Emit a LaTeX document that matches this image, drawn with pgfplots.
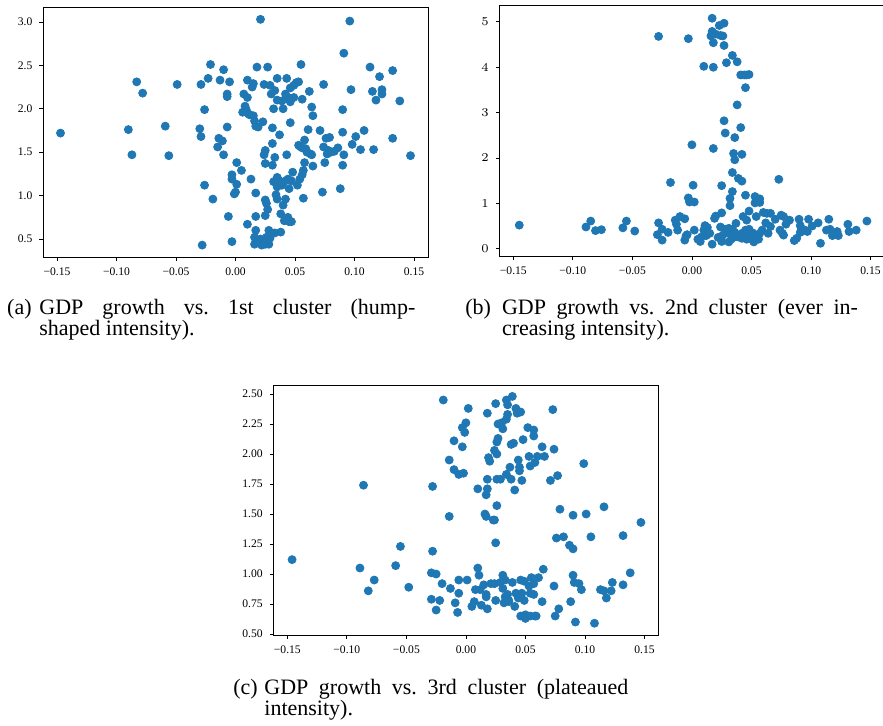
\documentclass[border=0pt]{standalone}
\usepackage{fontspec}
\setmainfont{Liberation Serif}
\usepackage{pgfplots}
\pgfplotsset{compat=1.18}
\definecolor{mplblue}{HTML}{1F77B4}
\frenchspacing

\pgfplotsset{
  panel/.style={
    scale only axis, width=192.5pt, height=125pt, anchor=south west,
    axis line style={line width=0.5pt, black},
    tick align=outside, xtick pos=bottom, ytick pos=left,
    major tick length=1.8pt, tick style={line width=0.4pt, black},
    ticklabel style={font=\fontsize{5.8}{6.5}\selectfont},
    xmin=-0.1617, xmax=0.1617,
    xtick={-0.15,-0.1,-0.05,0,0.05,0.1,0.15},
    xticklabels={−0.15,−0.10,−0.05,0.00,0.05,0.10,0.15},
    scaled ticks=false,
  },
  dots/.style={only marks, mark=*, mark size=2pt, color=mplblue,
    mark options={draw=mplblue, fill=mplblue}},
}

\begin{document}
\begin{tikzpicture}
\useasboundingbox (0,0) rectangle (441.5pt,362.5pt);

% (a) first cluster
\begin{axis}[panel, at={(21.5pt,234pt)},
  ymin=0.293, ymax=3.172,
  ytick={0.5,1,1.5,2,2.5,3}, yticklabels={0.5,1.0,1.5,2.0,2.5,3.0}]
\addplot[dots] table {
x y
-0.147 1.72
-0.090 1.76
-0.087 1.47
-0.083 2.31
-0.078 2.18
-0.059 1.80
-0.056 1.46
-0.049 2.28
-0.029 2.28
-0.030 1.77
-0.029 1.68
-0.028 0.43
-0.026 1.12
-0.026 1.99
-0.023 2.35
-0.021 2.51
-0.019 0.96
-0.015 1.56
-0.014 1.66
-0.013 2.33
-0.011 1.63
-0.010 1.47
-0.010 2.45
-0.007 2.14
-0.007 2.17
-0.007 1.79
-0.006 0.76
-0.005 2.31
-0.003 0.47
-0.003 1.24
-0.003 1.19
-0.001 1.02
0.000 1.04
0.001 1.38
0.001 1.13
0.005 1.29
0.006 1.96
0.008 2.03
0.009 1.99
0.007 2.17
0.010 2.13
0.010 2.33
0.011 1.94
0.012 1.93
0.010 0.67
0.013 1.19
0.014 2.25
0.015 2.29
0.015 1.92
0.016 1.86
0.017 0.76
0.017 1.03
0.016 0.52
0.016 0.44
0.017 0.60
0.018 2.48
0.019 1.79
0.017 1.80
0.021 3.03
0.021 0.50
0.022 0.43
0.023 1.85
0.024 1.47
0.024 2.28
0.025 1.52
0.025 0.95
0.025 0.77
0.025 1.37
0.025 0.44
0.026 0.52
0.026 0.91
0.027 2.48
0.027 0.84
0.028 0.60
0.028 0.44
0.029 0.51
0.029 2.27
0.030 2.17
0.031 1.78
0.031 1.60
0.031 1.35
0.032 1.16
0.032 2.00
0.033 2.21
0.033 1.44
0.033 0.57
0.034 1.01
0.035 1.21
0.036 1.18
0.035 2.35
0.035 2.10
0.035 1.10
0.035 0.96
0.037 1.70
0.038 0.79
0.038 0.58
0.039 2.09
0.039 1.12
0.040 0.89
0.040 2.00
0.041 0.71
0.042 2.17
0.042 0.96
0.042 1.17
0.043 1.47
0.043 2.35
0.044 2.13
0.044 0.75
0.044 1.19
0.045 0.70
0.045 1.08
0.046 2.08
0.046 1.84
0.046 2.24
0.047 0.70
0.047 1.17
0.048 1.27
0.049 2.13
0.049 2.27
0.051 2.30
0.052 1.12
0.053 2.31
0.053 1.58
0.054 1.19
0.054 1.57
0.055 2.51
0.055 1.56
0.056 1.55
0.056 1.24
0.056 2.11
0.057 1.29
0.057 0.97
0.058 1.38
0.058 1.64
0.059 1.54
0.060 1.50
0.061 1.76
0.062 2.20
0.063 1.48
0.064 2.02
0.064 1.47
0.065 1.92
0.065 1.34
0.071 1.75
0.073 1.04
0.074 2.28
0.074 1.56
0.075 1.38
0.076 1.66
0.077 1.48
0.078 1.52
0.079 1.67
0.080 1.50
0.083 1.51
0.086 1.55
0.088 1.08
0.090 1.35
0.090 1.99
0.090 1.73
0.091 2.64
0.091 1.47
0.096 3.01
0.097 2.22
0.098 1.59
0.101 1.68
0.105 1.53
0.108 1.75
0.113 2.48
0.115 2.20
0.116 1.53
0.118 2.10
0.121 2.37
0.123 2.17
0.123 2.22
0.132 1.66
0.132 2.44
0.138 2.09
0.147 1.46
};
\end{axis}

% (b) second cluster
\begin{axis}[panel, at={(249.7pt,234.5pt)},
  ymin=-0.16, ymax=5.35, ytick={0,1,2,3,4,5}]
\addplot[dots] table {
x y
-0.145 0.52
-0.089 0.48
-0.085 0.61
-0.081 0.40
-0.076 0.42
-0.058 0.46
-0.055 0.61
-0.048 0.39
-0.028 4.68
-0.028 0.57
-0.029 0.31
-0.025 0.43
-0.025 0.19
-0.020 0.36
-0.018 1.46
-0.014 0.63
-0.013 0.54
-0.012 0.41
-0.010 0.71
-0.006 0.66
-0.005 0.28
-0.006 0.19
-0.004 0.31
-0.003 4.63
-0.003 1.12
-0.002 1.03
0.002 1.03
0.000 2.29
0.001 1.40
0.002 0.41
0.005 0.21
0.007 0.16
0.008 0.26
0.010 0.41
0.010 4.02
0.011 0.51
0.012 0.29
0.013 0.47
0.015 0.34
0.017 5.08
0.017 4.79
0.016 4.69
0.018 4.54
0.018 4.00
0.018 2.21
0.017 0.10
0.019 0.67
0.020 4.73
0.020 0.72
0.023 4.92
0.024 4.70
0.027 4.97
0.026 4.69
0.027 4.48
0.029 4.10
0.027 2.82
0.028 2.55
0.025 1.39
0.025 0.79
0.024 0.48
0.022 0.25
0.026 0.30
0.025 0.16
0.028 0.43
0.030 0.36
0.032 1.11
0.032 0.95
0.031 0.45
0.032 0.34
0.031 0.15
0.033 0.21
0.034 0.43
0.034 4.26
0.034 1.26
0.034 1.68
0.035 2.10
0.036 1.96
0.036 2.45
0.036 0.26
0.036 0.36
0.037 0.56
0.038 4.12
0.038 3.17
0.038 0.28
0.039 1.55
0.041 2.67
0.041 3.83
0.042 1.49
0.042 2.08
0.043 0.71
0.044 3.83
0.044 0.30
0.045 3.55
0.045 1.18
0.046 3.83
0.048 3.84
0.048 0.83
0.046 0.63
0.048 0.43
0.045 0.41
0.042 0.34
0.042 0.23
0.039 0.26
0.046 0.21
0.049 0.28
0.050 0.21
0.051 0.35
0.053 1.15
0.053 1.01
0.057 1.10
0.057 1.02
0.054 0.71
0.052 0.15
0.053 0.23
0.055 0.28
0.056 0.21
0.057 0.34
0.059 0.41
0.060 0.80
0.062 0.57
0.063 0.78
0.064 0.34
0.066 0.78
0.066 0.49
0.070 0.65
0.073 1.53
0.074 0.41
0.075 0.74
0.076 0.34
0.077 0.30
0.077 0.71
0.079 0.54
0.082 0.63
0.086 0.18
0.088 0.23
0.090 0.65
0.091 0.51
0.091 0.36
0.095 0.41
0.097 0.38
0.098 0.65
0.101 0.50
0.106 0.57
0.108 0.12
0.113 0.41
0.115 0.65
0.116 0.43
0.118 0.29
0.122 0.38
0.123 0.29
0.131 0.54
0.132 0.38
0.138 0.41
0.147 0.61
};
\end{axis}

% (c) third cluster
\begin{axis}[panel, at={(136.7pt,45pt)},
  ymin=0.492, ymax=2.575,
  ytick={0.5,0.75,1,1.25,1.5,1.75,2,2.25,2.5},
  yticklabels={0.50,0.75,1.00,1.25,1.50,1.75,2.00,2.25,2.50}]
\addplot[dots] table {
x y
-0.146 1.12
-0.089 1.05
-0.086 1.74
-0.082 0.86
-0.077 0.95
-0.059 1.07
-0.055 1.23
-0.048 0.89
-0.029 1.01
-0.029 0.79
-0.028 1.73
-0.028 1.19
-0.025 1.00
-0.025 0.70
-0.022 0.78
-0.020 0.92
-0.019 2.45
-0.014 1.95
-0.014 1.48
-0.013 0.88
-0.010 2.11
-0.010 1.87
-0.009 0.76
-0.007 0.68
-0.006 1.83
-0.006 0.84
-0.006 0.95
-0.003 2.22
-0.003 2.06
-0.002 1.84
-0.001 2.18
0.000 2.26
0.001 0.95
0.002 2.38
0.005 0.73
0.007 0.77
0.008 0.87
0.010 1.71
0.010 1.05
0.011 0.99
0.012 0.87
0.013 0.74
0.015 0.91
0.016 1.50
0.017 1.66
0.017 1.48
0.017 0.83
0.017 0.81
0.018 1.71
0.018 1.79
0.018 0.71
0.018 2.34
0.019 1.97
0.020 1.94
0.021 0.92
0.023 1.45
0.024 2.03
0.024 1.45
0.024 0.92
0.025 1.26
0.025 2.42
0.025 0.78
0.026 2.10
0.026 1.57
0.026 2.00
0.026 1.79
0.027 2.13
0.027 2.25
0.029 1.79
0.029 0.93
0.030 2.26
0.031 0.99
0.031 2.21
0.031 0.88
0.032 0.76
0.033 0.81
0.033 0.95
0.034 1.83
0.034 2.45
0.034 2.29
0.035 2.33
0.035 2.41
0.035 0.83
0.036 0.77
0.036 0.78
0.037 1.89
0.038 2.08
0.038 1.79
0.039 2.48
0.039 0.93
0.040 2.09
0.041 1.70
0.041 0.73
0.042 0.84
0.042 2.38
0.043 2.34
0.044 1.95
0.044 0.80
0.045 1.89
0.045 1.86
0.046 0.95
0.046 2.35
0.046 0.65
0.047 1.78
0.047 0.84
0.048 2.12
0.049 0.94
0.049 0.78
0.050 0.66
0.050 0.63
0.052 2.22
0.053 1.98
0.054 1.90
0.053 0.90
0.054 0.84
0.054 0.65
0.055 0.97
0.057 0.92
0.057 2.20
0.057 2.15
0.057 0.83
0.058 0.65
0.058 1.93
0.059 0.65
0.060 1.98
0.061 0.97
0.064 2.06
0.064 0.77
0.065 1.04
0.066 1.98
0.071 1.78
0.073 2.37
0.074 0.90
0.074 2.04
0.075 0.65
0.076 1.30
0.077 1.82
0.078 0.71
0.079 1.54
0.082 1.31
0.087 1.24
0.088 0.77
0.090 1.21
0.090 1.49
0.090 0.99
0.091 0.93
0.092 0.60
0.095 0.92
0.097 0.87
0.099 1.92
0.101 1.50
0.105 1.31
0.108 0.59
0.113 0.87
0.116 1.56
0.116 0.86
0.118 0.80
0.122 0.86
0.123 0.93
0.132 1.32
0.132 0.91
0.138 1.01
0.147 1.43
};
\end{axis}

% captions
\fontsize{11}{10.75}\selectfont
\node[anchor=base west, inner sep=0] at (3.4pt,205.5pt) {(a)};
\node[anchor=base west, inner sep=0] at (19.5pt,205.5pt)
  {\parbox[t]{188pt}{\fontsize{11}{10.75}\selectfont GDP growth vs. 1st cluster (hump-\linebreak shaped intensity).}};
\node[anchor=base west, inner sep=0] at (232.5pt,205.5pt) {(b)};
\node[anchor=base west, inner sep=0] at (250.8pt,205.5pt)
  {\parbox[t]{178pt}{\fontsize{11}{10.75}\selectfont GDP growth vs. 2nd cluster (ever in-\linebreak creasing intensity).}};
\node[anchor=base west, inner sep=0] at (116.5pt,15.5pt) {(c)};
\node[anchor=base west, inner sep=0] at (132pt,15.5pt)
  {\parbox[t]{182pt}{\fontsize{11}{10.75}\selectfont GDP growth vs. 3rd cluster (plateaued\linebreak intensity).}};
\end{tikzpicture}
\end{document}
